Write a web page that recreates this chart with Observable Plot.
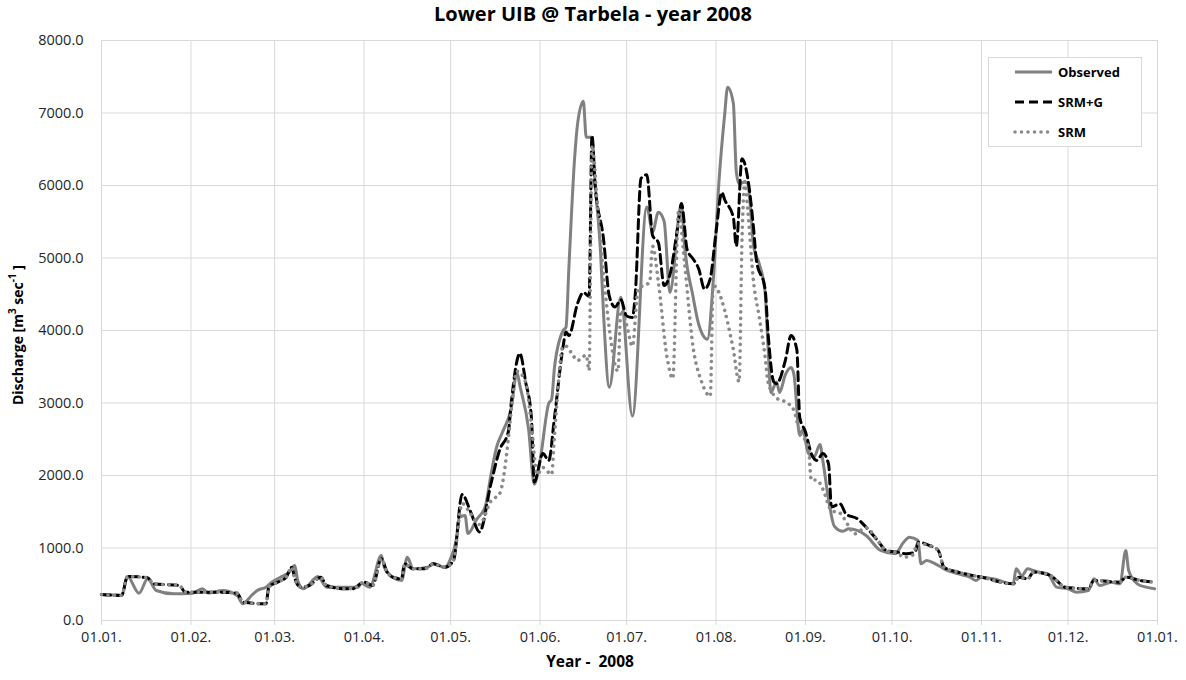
<!DOCTYPE html>
<html>
<head>
<meta charset="utf-8">
<script src="https://cdn.jsdelivr.net/npm/d3@7"></script>
<script src="https://cdn.jsdelivr.net/npm/@observablehq/plot@0.6"></script>
<style>
  html, body { margin: 0; padding: 0; background: #fff; }
  #wrap { position: relative; width: 1186px; height: 680px; overflow: hidden; font-family: "Open Sans", sans-serif; }
  #title { height: 28px; line-height: 28px; text-align: center; font-weight: bold; font-size: 20px; color: #000; }
  #legend { position: absolute; left: 988px; top: 57px; width: 154px; height: 90px; border: 1px solid #d9d9d9; background: #fff; box-sizing: border-box; }
  #legend .item { position: absolute; left: 24px; height: 18px; display: flex; align-items: center; font-size: 13px; font-weight: bold; color: #000; white-space: nowrap; }
  #legend svg { margin-right: 5px; }
</style>
</head>
<body>
<div id="wrap">
  <div id="title">Lower UIB @ Tarbela - year 2008</div>
  <div id="chart"></div>
  <div id="legend"></div>
</div>
<script>
// Daily discharge at Tarbela, 2008 (day 0 = 1 January), m3/s
const obsDay = [0,7,9,13,16,19,25,31,35,37,42,47,49,52,54,57,59,62,65,67,68,70,75,78,89,90,93,97,98,101,104,106,108,113,115,119,121,123,124,126,127,130,133,135,137,139,142,144,145,148,150,152,155,156,157,160,161,162,164,165,167,168,170,171,173,174,176,180,184,189,191,193,195,197,201,202,205,207,210,212,214,216,217,219,220,221,223,224,225,226,228,230,231,232,234,235,237,239,240,242,243,245,247,249,250,252,254,257,259,265,270,275,278,280,283,284,286,289,292,297,301,303,305,309,316,317,319,321,323,325,328,331,335,338,342,344,346,350,353,355,356,359,362,365];
const obsQ = [360,350,607,377,575,414,368,372,437,380,414,345,230,345,414,460,528,597,666,758,552,437,607,460,460,515,460,897,735,597,552,873,713,735,782,730,855,1123,1420,1448,1200,1393,1572,2014,2400,2600,2924,3420,3241,2648,1880,2207,2994,3048,3490,4000,4046,4873,6390,6850,7163,6666,6666,6069,5058,4230,3218,4460,2820,5705,5360,5630,5508,4524,5753,5214,4473,4083,3881,4670,6050,6985,7354,7132,6197,6025,6050,6025,5655,5163,4916,4524,3783,3145,3291,3145,3389,3490,3389,2552,2626,2305,2257,2428,2207,1665,1300,1230,1264,1172,966,920,1080,1149,1103,782,828,782,713,644,597,552,597,575,506,713,621,713,690,666,644,460,437,390,414,575,483,529,506,966,690,506,460,437];

// Snowmelt Runoff Model with glacier melt
const srmgDay = [0,7,9,16,18,27,29,40,47,49,57,58,61,64,66,67,69,72,76,78,84,87,91,94,97,99,101,104,105,108,112,115,119,122,125,128,131,135,138,141,142,145,147,149,150,153,155,157,160,161,162,165,167,169,170,171,174,176,178,180,182,184,185,187,189,191,193,195,197,200,201,203,205,207,209,211,213,215,216,219,220,222,224,226,227,230,231,233,234,237,239,241,242,244,246,248,250,252,253,256,258,262,265,269,272,276,279,282,283,287,290,292,297,305,316,318,321,323,329,331,334,342,344,353,355,360,365];
const srmgQ = [359,345,607,589,506,483,391,391,377,253,230,460,529,597,735,575,460,483,597,483,437,437,529,483,851,666,597,575,782,713,713,782,735,828,1738,1492,1222,1890,2354,2601,2994,3684,3291,2800,1911,2305,2207,2800,3783,3980,3931,4374,4524,4473,6690,6050,5261,4473,4325,4424,4200,4180,4500,6098,6147,5310,5213,4620,4768,5508,5753,5113,4990,4850,4571,4719,5360,5904,5803,5559,5163,6370,6098,5408,4966,4571,3980,3291,3266,3586,3931,3734,2800,2601,2305,2207,2305,2157,1567,1609,1471,1402,1287,1103,966,942,920,942,1080,1034,966,735,666,597,506,597,575,666,621,552,460,437,552,529,597,552,529];

// Snowmelt Runoff Model without glacier melt
const srmDay = [0,7,9,16,18,27,29,40,47,49,57,58,61,64,66,67,69,72,76,78,84,87,91,94,97,99,101,104,105,108,112,115,119,122,125,128,131,135,138,141,142,144,147,149,151,153,156,157,160,161,163,165,168,169,170,172,174,176,179,180,182,184,186,190,191,193,196,198,200,202,205,208,211,212,214,216,218,219,221,222,223,224,226,228,230,231,234,238,240,242,245,246,248,250,253,256,259,261,265,269,272,276,278,281,283,287,290,292,297,305,316,318,321,323,329,331,334,342,344,353,355,360,365];
const srmQ = [359,345,607,589,506,483,391,391,377,253,230,460,529,597,735,575,460,483,597,483,437,437,529,483,851,666,597,575,782,713,713,782,735,828,1614,1468,1324,1650,1750,2502,2896,3439,3291,2703,2014,2110,2014,2552,3783,3783,3683,3586,3660,3450,6550,5655,4768,4029,3439,4276,4079,3783,4571,4670,5163,4670,3636,3339,5655,4966,3783,3291,3094,4620,4524,4276,3931,3734,3291,5261,6050,5655,4670,4180,3636,3291,3069,2994,2896,2601,2404,1937,1937,1813,1517,1480,1300,1195,1280,1103,966,930,873,900,1060,1034,966,735,666,597,506,597,575,666,621,552,460,437,552,529,597,552,529];

const seriesNames = ["Observed", "SRM+G", "SRM"];
const yTicks = [0,1000,2000,3000,4000,5000,6000,7000,8000];
const monthStarts = [0,31,60,91,121,152,182,213,244,274,305,335,366];

const toDate = d => new Date(Date.UTC(2008, 0, 1 + d));
const monthTicks = monthStarts.map(toDate);
const rows = (days, vals) => days.map((d, i) => ({date: toDate(d), q: vals[i]}));

const styles = {
  "Observed": {stroke: "#808080", strokeWidth: 3},
  "SRM+G": {stroke: "#000", strokeWidth: 3, strokeDasharray: "9,5"},
  "SRM": {stroke: "#8a8a8a", strokeWidth: 3.6, strokeDasharray: "0.01,6.5", strokeLinecap: "round"}
};

const chart = Plot.plot({
  width: 1186,
  height: 652,
  marginTop: 12,
  marginBottom: 60,
  marginLeft: 101,
  marginRight: 29,
  style: {fontFamily: "Open Sans, sans-serif", fontSize: "14px", background: "#fff", overflow: "visible"},
  x: {type: "utc", domain: [toDate(0), toDate(366)]},
  y: {domain: [0, 8000]},
  marks: [
    Plot.gridY(yTicks, {stroke: "#d9d9d9", strokeOpacity: 1, strokeWidth: 1}),
    Plot.gridX(monthTicks, {stroke: "#d9d9d9", strokeOpacity: 1, strokeWidth: 1}),
    Plot.axisX(monthTicks, {tickFormat: d3.utcFormat("%d.%m."), tickSize: 5, tickPadding: 6, stroke: "#d9d9d9", fill: "#262626", label: null, fontSize: 14.5}),
    Plot.axisY(yTicks, {tickFormat: d => d.toFixed(1), tickSize: 0, tickPadding: 18, fill: "#262626", label: null, fontSize: 14.5}),
    Plot.line(rows(obsDay, obsQ), {x: "date", y: "q", curve: "monotone-x", ...styles["Observed"]}),
    Plot.line(rows(srmgDay, srmgQ), {x: "date", y: "q", curve: "monotone-x", ...styles["SRM+G"]}),
    Plot.line(rows(srmDay, srmQ), {x: "date", y: "q", curve: "monotone-x", ...styles["SRM"]})
  ]
});
document.getElementById("chart").appendChild(chart);

// Axis titles
const svg = d3.select(chart);
const yl = svg.append("text")
  .attr("transform", "translate(18,307) rotate(-90)")
  .attr("text-anchor", "middle")
  .attr("dy", "0.35em")
  .attr("font-family", "Open Sans, sans-serif")
  .attr("font-size", 14)
  .attr("font-weight", "bold")
  .attr("fill", "#000");
yl.append("tspan").text("Discharge [m");
yl.append("tspan").attr("baseline-shift", "super").attr("font-size", 10).text("3");
yl.append("tspan").text(" sec");
yl.append("tspan").attr("baseline-shift", "super").attr("font-size", 10).text("-1");
yl.append("tspan").text(" ]");

svg.append("text")
  .attr("x", 590).attr("y", 634)
  .attr("text-anchor", "middle")
  .attr("dy", "0.35em")
  .attr("font-family", "Open Sans, sans-serif")
  .attr("font-size", 15.5)
  .attr("font-weight", "bold")
  .attr("fill", "#000")
  .attr("xml:space", "preserve")
  .text("Year -  2008");

// Legend
const legend = d3.select("#legend");
const centers = [14, 44, 74];
seriesNames.forEach((name, i) => {
  const item = legend.append("div").attr("class", "item").style("top", (centers[i] - 9) + "px");
  const s = item.append("svg").attr("width", 40).attr("height", 10);
  const st = styles[name];
  s.append("line").attr("x1", 2).attr("x2", 39).attr("y1", 5).attr("y2", 5)
    .attr("stroke", st.stroke).attr("stroke-width", st.strokeWidth)
    .attr("stroke-dasharray", st.strokeDasharray || null)
    .attr("stroke-linecap", st.strokeLinecap || null);
  item.append("span").text(name);
});
</script>
</body>
</html>
